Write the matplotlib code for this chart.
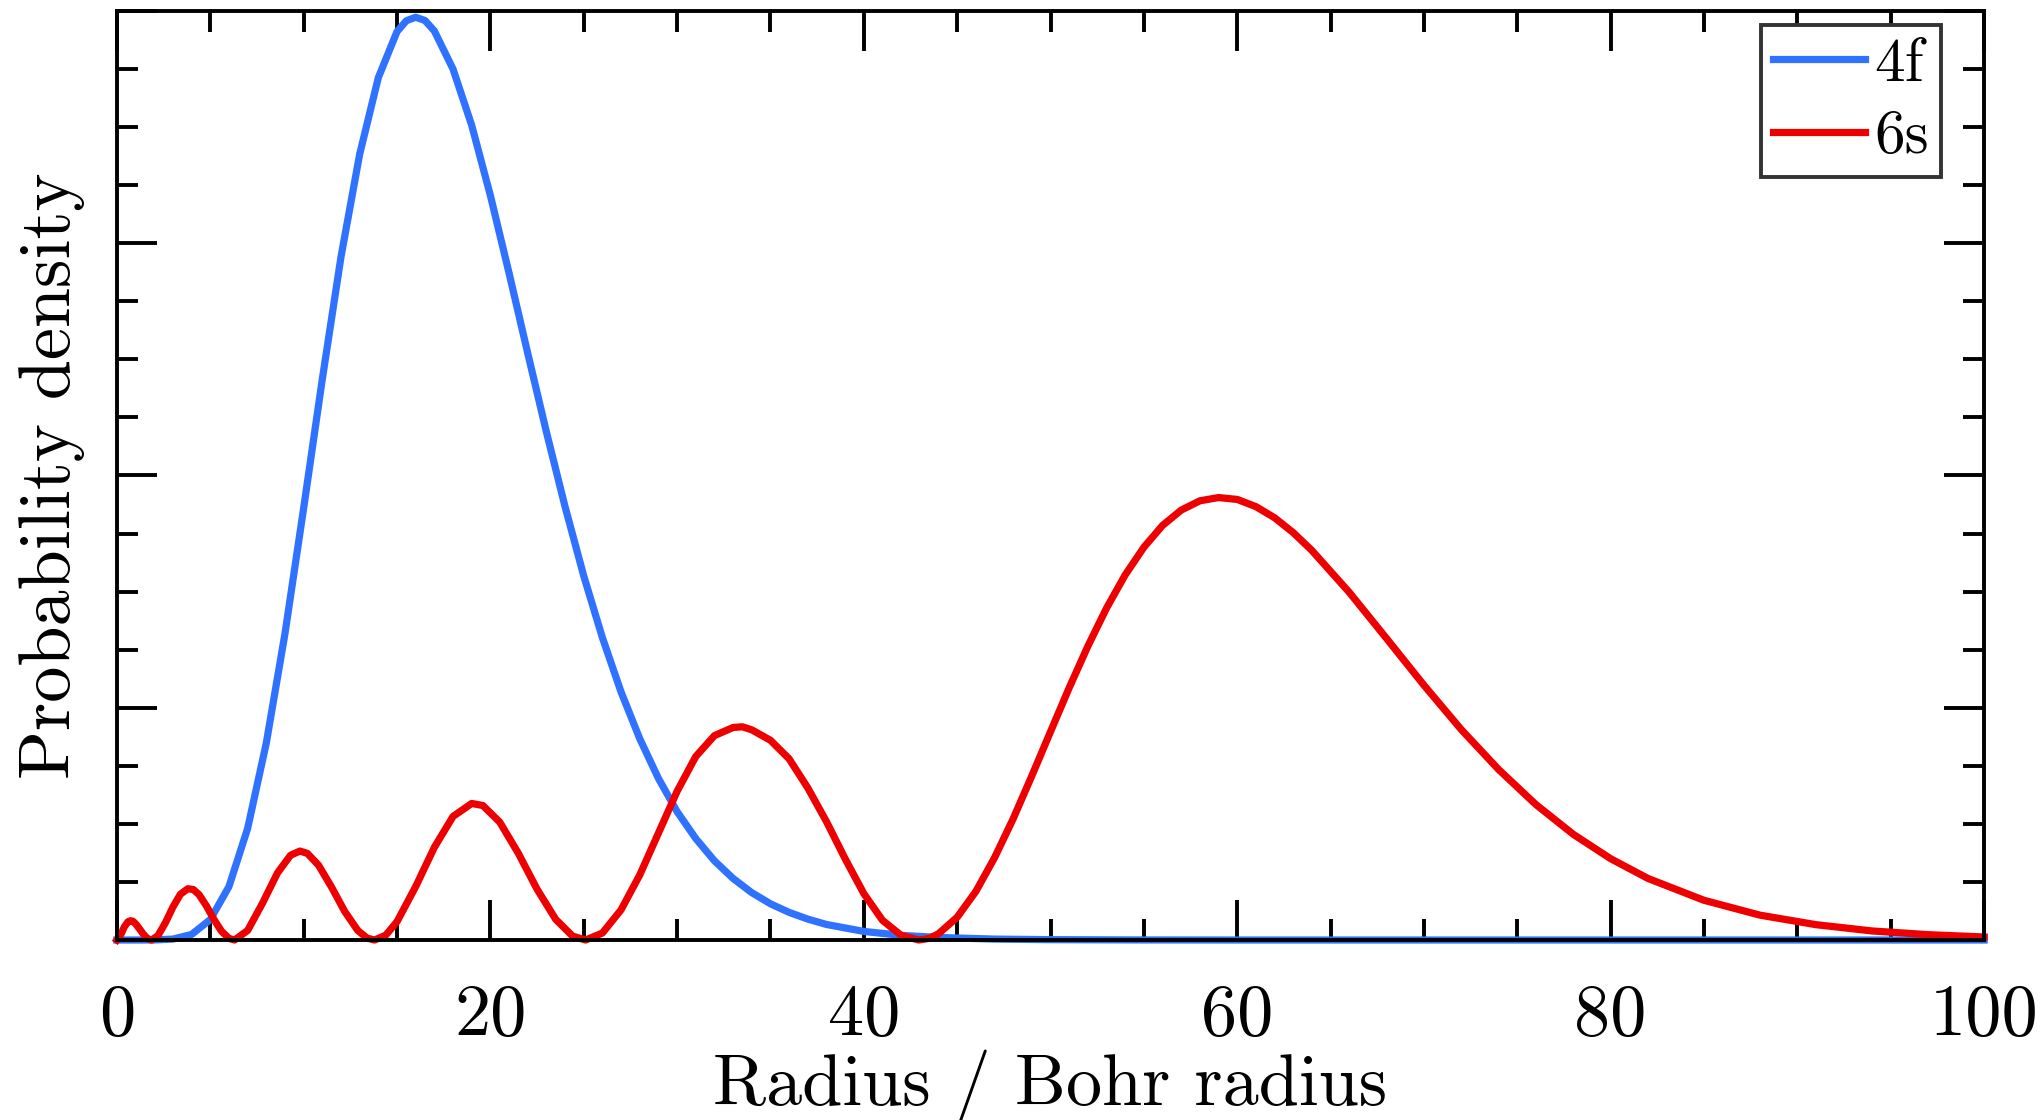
import numpy as np
from matplotlib import pyplot as plt
from matplotlib.ticker import MultipleLocator, NullFormatter

plt.rcParams['font.family'] = ['cmr10', 'DejaVu Serif']
plt.rcParams['axes.unicode_minus'] = False
plt.rcParams['mathtext.fontset'] = 'cm'

# values (radius in Bohr radii, density in arbitrary units)
r_4f = [0, 1, 2, 3, 4, 5, 6, 7, 8, 9, 10, 11, 12, 13, 14, 15, 15.5, 16, 16.5, 17, 18, 19, 20,
        21, 22, 23, 24, 25, 26, 27, 28, 29, 30, 31, 32, 33, 34, 35, 36, 37, 38, 40, 42, 44,
        47, 50, 55, 60, 100]
p_4f = [0, 0, 0.0003, 0.004, 0.024, 0.088, 0.23, 0.48, 0.848, 1.319, 1.859, 2.415, 2.941,
        3.383, 3.713, 3.911, 3.958, 3.973, 3.959, 3.914, 3.750, 3.508, 3.206, 2.872, 2.527,
        2.188, 1.866, 1.568, 1.302, 1.068, 0.867, 0.696, 0.553, 0.437, 0.341, 0.265, 0.204,
        0.156, 0.119, 0.090, 0.067, 0.037, 0.020, 0.011, 0.004, 0.0015, 0.0003, 0, 0]

r_6s = [0, 0.2, 0.4, 0.6, 0.73, 0.85, 1.0, 1.2, 1.4, 1.6, 1.75, 1.86,
        2.2, 2.6, 3.0, 3.4, 3.8, 4.1, 4.4, 4.8, 5.2, 5.6, 6.0, 6.3,
        7.0, 7.8, 8.6, 9.3, 9.8, 10.2, 10.8, 11.5, 12.2, 12.9, 13.4, 13.8,
        14.4, 15.0, 16.0, 17.0, 18.0, 19.0, 19.6, 20.5, 21.5, 22.5, 23.5, 24.4, 25.1,
        26, 27, 28, 29, 30, 31, 32, 33, 33.5, 34, 35, 36, 37, 38, 39, 40, 41, 42, 42.94,
        43.5, 44, 45, 46, 47, 48, 49, 50, 51, 52, 53, 54, 55, 56, 57, 58, 59, 60, 61, 62,
        63, 64, 66, 68, 70, 72, 74, 76, 78, 80, 82, 85, 88, 91, 94, 97, 100]
p_6s = [0, 0.022, 0.057, 0.079, 0.083, 0.081, 0.070, 0.049, 0.027, 0.009, 0.002, 0,
        0.019, 0.075, 0.142, 0.197, 0.221, 0.217, 0.195, 0.146, 0.088, 0.038, 0.007, 0,
        0.041, 0.159, 0.289, 0.365, 0.383, 0.373, 0.322, 0.227, 0.123, 0.041, 0.008, 0,
        0.021, 0.079, 0.230, 0.399, 0.532, 0.588, 0.579, 0.508, 0.373, 0.219, 0.089, 0.017, 0,
        0.03, 0.13, 0.28, 0.46, 0.64, 0.79, 0.88, 0.915, 0.918, 0.905, 0.86, 0.78, 0.655,
        0.51, 0.35, 0.20, 0.085, 0.02, 0,
        0.007, 0.027, 0.098, 0.209, 0.354, 0.522, 0.707, 0.897, 1.086, 1.265, 1.429, 1.572,
        1.691, 1.785, 1.851, 1.891, 1.905, 1.897, 1.866, 1.818, 1.754, 1.677, 1.497, 1.298,
        1.097, 0.906, 0.734, 0.583, 0.455, 0.350, 0.265, 0.171, 0.107, 0.066, 0.039, 0.023,
        0.013]

fig = plt.figure(figsize=(10.22, 5.6), dpi=200)
ax = fig.add_axes([0.0572, 0.1607, 0.9135, 0.8295])

ax.plot(r_4f, p_4f, color='#2E72FF', lw=2.6, label='4f', clip_on=False)
ax.plot(r_6s, p_6s, color='#EE0000', lw=2.6, label='6s', clip_on=False)

ax.set_xlim(0, 100)
ax.set_ylim(0, 4)
ax.xaxis.set_major_locator(MultipleLocator(20))
ax.xaxis.set_minor_locator(MultipleLocator(5))
ax.yaxis.set_major_locator(MultipleLocator(1))
ax.yaxis.set_minor_locator(MultipleLocator(0.25))
ax.yaxis.set_major_formatter(NullFormatter())

ax.tick_params(which='both', direction='in', top=True, right=True, width=1.4)
ax.tick_params(which='major', length=14.4, labelsize=26, pad=16)
ax.tick_params(which='minor', length=7.6)
for s in ax.spines.values():
    s.set_linewidth(1.4)

ax.set_xlabel('Radius / Bohr radius', fontsize=26, labelpad=0)
ax.set_ylabel('Probability density', fontsize=26)
ax.yaxis.set_label_coords(-0.0171, 0.5)

leg = ax.legend(loc='upper right', bbox_to_anchor=(1941 / 2044, 1 - 25 / 1120),
                bbox_transform=fig.transFigure, fontsize=22, handlelength=1.5,
                handletextpad=0.15, borderpad=0.2, labelspacing=0.28, fancybox=False,
                framealpha=1, edgecolor='#333333', borderaxespad=0)
leg.get_frame().set_linewidth(1.4)

fig.savefig('out.png', dpi=200)
